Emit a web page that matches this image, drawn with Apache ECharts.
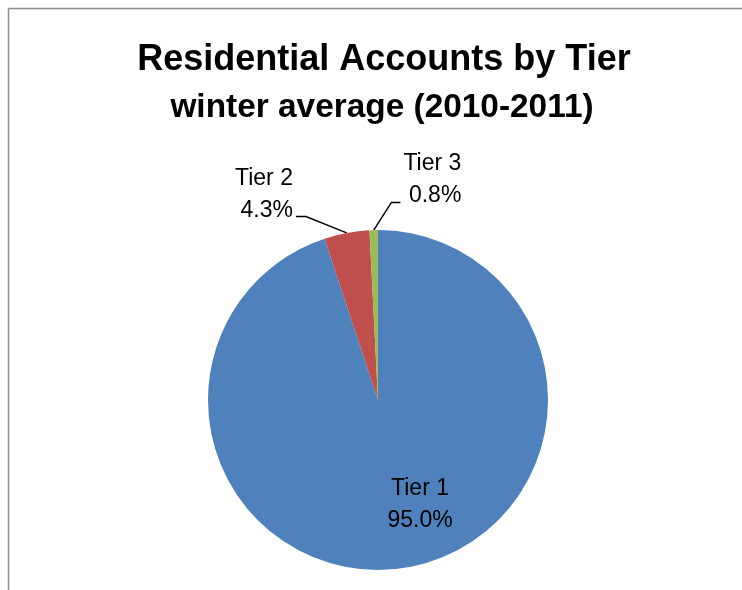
<!DOCTYPE html>
<html>
<head>
<meta charset="utf-8">
<script src="https://cdn.jsdelivr.net/npm/echarts@6/dist/echarts.min.js"></script>
<style>
html,body{margin:0;padding:0;background:#fff;}
#chart{width:742px;height:590px;}
</style>
</head>
<body>
<div id="chart"></div>
<script>
const titleText = 'Residential Accounts by Tier';
const subtitleText = 'winter average (2010-2011)';
const categories = ['Tier 1', 'Tier 2', 'Tier 3'];
const shares = [95.0, 4.3, 0.8];
const colors = ['#4F81BD', '#C0504D', '#9BBB59'];

const chart = echarts.init(document.getElementById('chart'));
const FONT = '"Liberation Sans", Arial, sans-serif';

const labelCfg = [
  { position: 'inside' },
  { position: 'outside', align: 'center' },
  { position: 'outside', align: 'center' }
];
// label offsets (dx, dy)
const labelShift = [[28, 18], [-36, -24], [103, -35]];

chart.setOption({
  animation: false,
  backgroundColor: '#fff',
  title: [
    { text: titleText, left: 379, textAlign: 'center', top: 37,
      textStyle: { fontFamily: FONT, fontSize: 36, fontWeight: 'bold', color: '#000' } },
    { text: subtitleText, left: 377, textAlign: 'center', top: 86,
      textStyle: { fontFamily: FONT, fontSize: 33.4, fontWeight: 'bold', color: '#000' } }
  ],
  graphic: [
    { type: 'line', shape: { x1: 8.5, y1: 8.5, x2: 742, y2: 8.5 }, style: { stroke: '#8c8c8c', lineWidth: 1.5 } },
    { type: 'line', shape: { x1: 8.5, y1: 8.5, x2: 8.5, y2: 590 }, style: { stroke: '#8c8c8c', lineWidth: 1.5 } }
  ],
  series: [{
    type: 'pie',
    center: [378, 400],
    radius: 170,
    startAngle: 90,
    clockwise: true,
    avoidLabelOverlap: false,
    itemStyle: { borderWidth: 0 },
    label: {
      fontFamily: FONT, fontSize: 23, color: '#000', lineHeight: 32,
      formatter: p => p.name + '\n' + p.value.toFixed(1) + '%'
    },
    labelLine: { show: true, length: 15, length2: 10, lineStyle: { color: '#000', width: 1.5 } },
    labelLayout: function (params) {
      const s = labelShift[params.dataIndex];
      const out = { dx: s[0], dy: s[1] };
      if (params.dataIndex > 0 && params.labelLinePoints) {
        const r = params.labelRect;
        const nx = r.x + s[0], ny = r.y + s[1];
        const p0 = params.labelLinePoints[0];
        const yy = ny + r.height * 0.85;
        if (params.dataIndex === 1) {
          const ex = nx + r.width + 3;
          out.labelLinePoints = [p0, [ex + 10, yy], [ex, yy]];
        } else {
          const ex = nx - 3;
          out.labelLinePoints = [p0, [ex - 9, yy], [ex, yy]];
        }
      }
      return out;
    },
    data: categories.map((c, i) => ({
      name: c, value: shares[i],
      itemStyle: { color: colors[i] },
      label: labelCfg[i]
    }))
  }]
});
</script>
</body>
</html>
